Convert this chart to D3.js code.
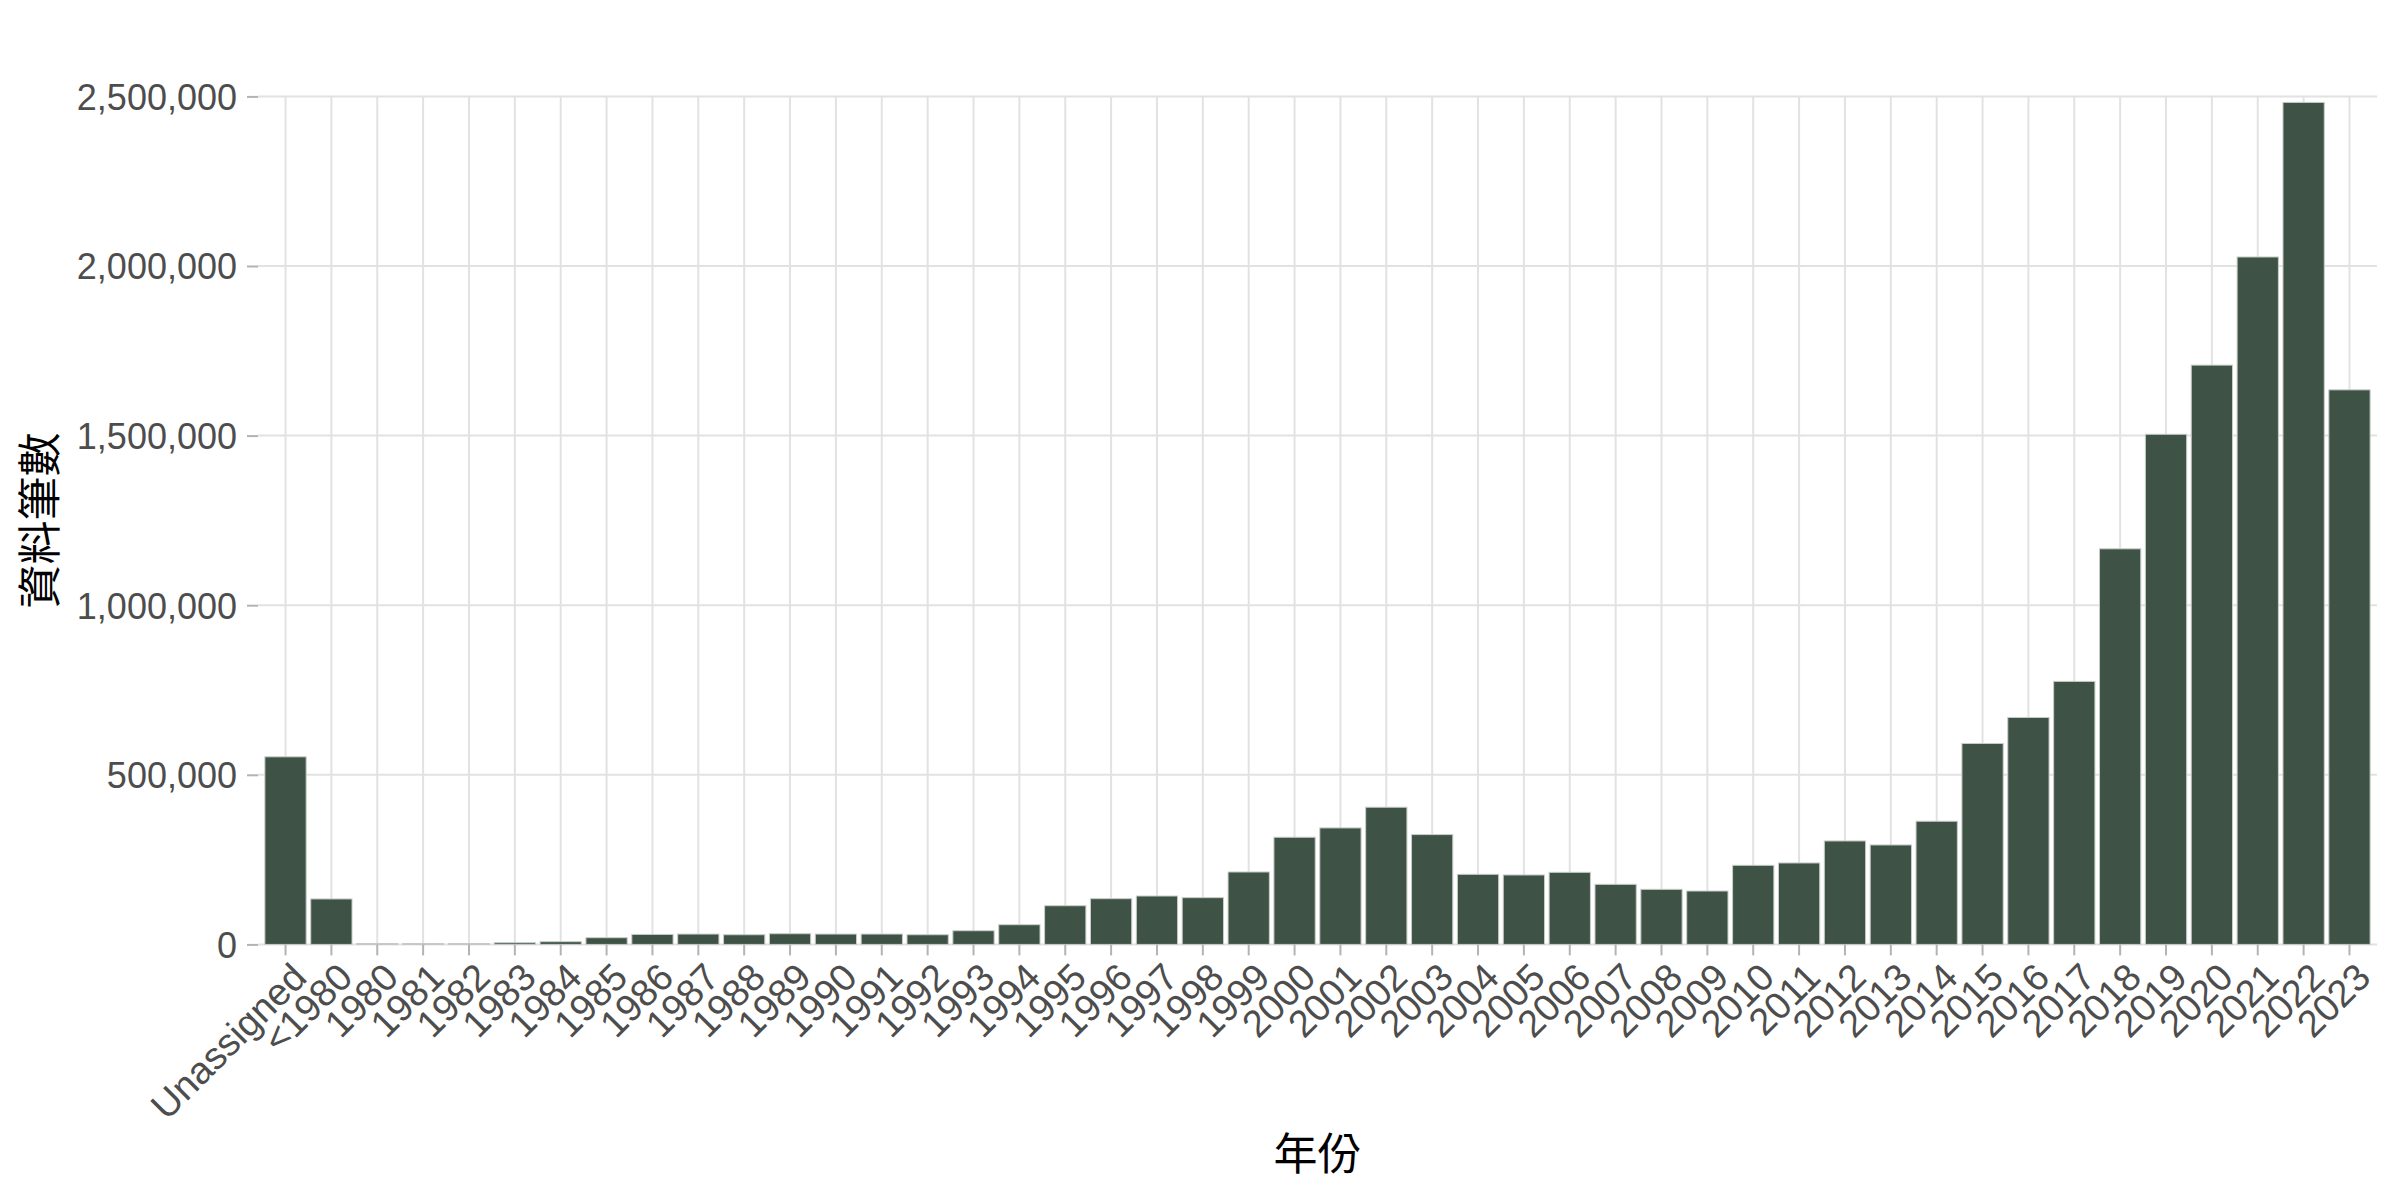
<!DOCTYPE html>
<html>
<head>
<meta charset="utf-8">
<script src="https://cdn.jsdelivr.net/npm/d3@7"></script>
<style>
  html, body { margin: 0; padding: 0; background: #ffffff; }
  svg { display: block; }
</style>
</head>
<body>
<svg id="chart" width="2400" height="1200"></svg>
<script>
const categories = ["Unassigned","<1980","1980","1981","1982","1983","1984","1985","1986","1987","1988","1989","1990","1991","1992","1993","1994","1995","1996","1997","1998","1999","2000","2001","2002","2003","2004","2005","2006","2007","2008","2009","2010","2011","2012","2013","2014","2015","2016","2017","2018","2019","2020","2021","2022","2023"];
const counts = [553000,134000,2000,2000,2000,5000,8000,19700,29500,30500,28500,31500,30500,30500,28500,40300,58000,114000,134800,142700,137800,213500,315900,343400,404400,323700,206600,204700,212500,177100,162400,157400,233200,240100,305000,293200,363100,592400,669100,775400,1166200,1503900,1707800,2026600,2482300,1634900];
const yTicks = [0, 500000, 1000000, 1500000, 2000000, 2500000];
const xTitle = "年份";
const yTitle = "資料筆數";

const svg = d3.select("#chart");
const panel = { left: 258, right: 2377, top: 96.4, bottom: 944.4 };

const x = d3.scaleBand()
  .domain(categories)
  .range([panel.left, panel.right])
  .paddingInner(0.1)
  .paddingOuter(0.15);

const y = d3.scaleLinear()
  .domain([0, 2500000])
  .range([panel.bottom, panel.top]);

const gridColor = "#e2e2e2";
const grid = svg.append("g");
grid.selectAll("line.h").data(yTicks).join("line")
  .attr("x1", panel.left).attr("x2", panel.right)
  .attr("y1", d => y(d)).attr("y2", d => y(d))
  .attr("stroke", gridColor).attr("stroke-width", 2);
grid.selectAll("line.v").data(categories).join("line")
  .attr("x1", d => x(d) + x.bandwidth() / 2).attr("x2", d => x(d) + x.bandwidth() / 2)
  .attr("y1", panel.top).attr("y2", panel.bottom)
  .attr("stroke", gridColor).attr("stroke-width", 2);

// bars
svg.append("g").selectAll("rect").data(categories).join("rect")
  .attr("x", d => x(d))
  .attr("width", x.bandwidth())
  .attr("y", (d, i) => y(counts[i]))
  .attr("height", (d, i) => y(0) - y(counts[i]))
  .attr("fill", "#3e5246")
  .attr("stroke", "#c9cdc9")
  .attr("stroke-width", 1);

// y axis
const yAxis = d3.axisLeft(y).tickValues(yTicks).tickSize(11).tickPadding(10)
  .tickFormat(d3.format(","));
const gy = svg.append("g").attr("transform", `translate(${panel.left},0)`).call(yAxis);
gy.select(".domain").remove();
gy.selectAll(".tick line").attr("stroke", "#b3b3b3").attr("stroke-width", 2);
gy.selectAll(".tick text")
  .attr("fill", "#4d4d4d")
  .style("font-family", "'Liberation Sans', Arial, sans-serif")
  .style("font-size", "36px")
  .attr("dy", "0.36em");

// x axis
const xAxis = d3.axisBottom(x).tickSize(11).tickPadding(0);
const gx = svg.append("g").attr("transform", `translate(0,${panel.bottom})`).call(xAxis);
gx.select(".domain").remove();
gx.selectAll(".tick line").attr("stroke", "#b3b3b3").attr("stroke-width", 2);
gx.selectAll(".tick text")
  .attr("fill", "#4d4d4d")
  .style("font-family", "'Liberation Sans', Arial, sans-serif")
  .style("font-size", "38px")
  .attr("text-anchor", "end")
  .attr("y", 0)
  .attr("dy", 0)
  .attr("transform", "translate(4,16) rotate(-45)")
  .attr("dominant-baseline", "hanging");

// titles
svg.append("text")
  .attr("x", (panel.left + panel.right) / 2)
  .attr("y", 1151)
  .attr("text-anchor", "middle")
  .attr("dominant-baseline", "central")
  .style("font-family", "'Noto Sans CJK TC', 'Noto Sans CJK SC', sans-serif")
  .style("font-size", "44px")
  .attr("fill", "#000")
  .text(xTitle);

svg.append("text")
  .attr("transform", `translate(37,${(panel.top + panel.bottom) / 2}) rotate(-90)`)
  .attr("text-anchor", "middle")
  .attr("dominant-baseline", "central")
  .style("font-family", "'Noto Sans CJK TC', 'Noto Sans CJK SC', sans-serif")
  .style("font-size", "44px")
  .attr("fill", "#000")
  .text(yTitle);
</script>
</body>
</html>
